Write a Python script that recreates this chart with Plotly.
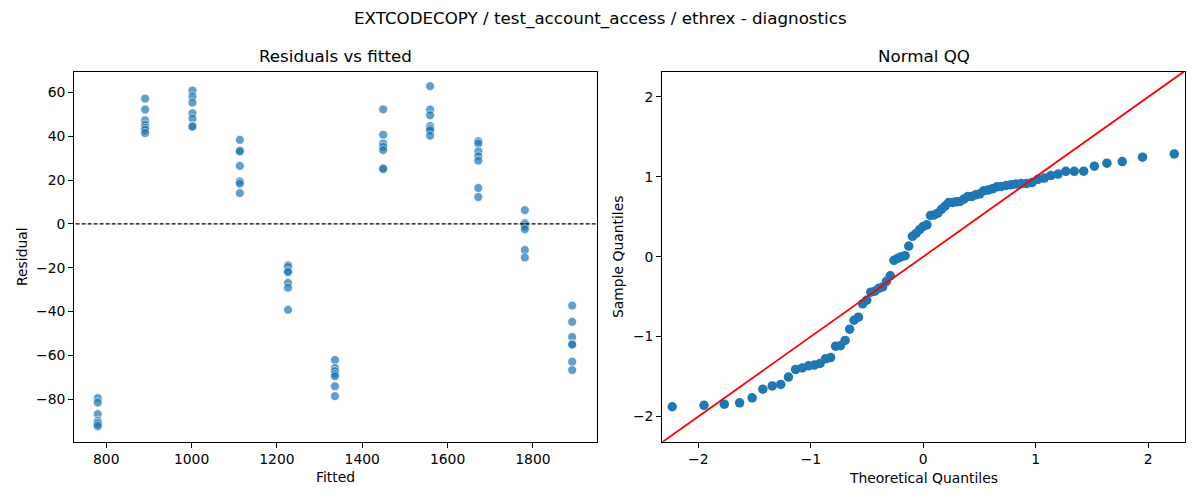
from statistics import NormalDist

import plotly.graph_objects as go

# fitted value of each group (7 runs per group) and the residuals
fitted_levels = [780, 891, 1002, 1113, 1226, 1336, 1449, 1559, 1672, 1781, 1892]
resid_780 = [-79.5, -81.5, -86.8, -89.9, -90.7, -91.4, -92.3]
resid_891 = [57.2, 52.2, 47.3, 45.3, 43.9, 42.9, 41.5]
resid_1002 = [60.9, 58.2, 55.4, 50.5, 48.1, 44.7, 44.4]
resid_1113 = [38.4, 33.5, 33.1, 26.5, 19.4, 18.4, 14.1]
resid_1226 = [-18.8, -19.6, -21.4, -22.0, -26.9, -29.1, -39.2]
resid_1336 = [-62.1, -65.7, -67.2, -68.5, -69.5, -74.1, -78.6]
resid_1449 = [52.3, 40.7, 36.7, 35.2, 33.7, 25.4, 25.1]
resid_1559 = [62.9, 52.2, 49.6, 44.7, 43.5, 42.7, 40.3]
resid_1672 = [37.8, 36.7, 33.1, 30.9, 28.9, 16.4, 12.3]
resid_1781 = [6.3, 0.4, -0.2, -1.2, -2.4, -11.9, -15.3]
resid_1892 = [-37.3, -44.7, -51.6, -54.8, -55.1, -62.9, -66.7]

groups = [resid_780, resid_891, resid_1002, resid_1113, resid_1226, resid_1336,
          resid_1449, resid_1559, resid_1672, resid_1781, resid_1892]

fitted = []
resid = []
for lvl, g in zip(fitted_levels, groups):
    fitted += [lvl] * len(g)
    resid += g

# normal QQ: standardized sorted residuals vs normal quantiles at i/(n+1)
n = len(resid)
mean = sum(resid) / n
std = (sum((r - mean) ** 2 for r in resid) / n) ** 0.5
sample_q = sorted((r - mean) / std for r in resid)
theo_q = [NormalDist().inv_cdf(i / (n + 1)) for i in range(1, n + 1)]

FONT = "DejaVu Sans"
BLUE = "#1f77b4"

fig = go.Figure()

fig.add_trace(go.Scatter(
    x=fitted, y=resid, mode="markers", xaxis="x", yaxis="y",
    marker=dict(size=9, color=BLUE, opacity=0.7, line=dict(color="white", width=0.8)),
    showlegend=False,
))
fig.add_trace(go.Scatter(
    x=[700, 2000], y=[0, 0], mode="lines", xaxis="x", yaxis="y",
    line=dict(color="black", width=1.2, dash="4px,2px"), showlegend=False,
))

fig.add_trace(go.Scatter(
    x=theo_q, y=sample_q, mode="markers", xaxis="x2", yaxis="y2",
    marker=dict(size=9.5, color=BLUE), showlegend=False,
))
fig.add_trace(go.Scatter(
    x=[-3, 3], y=[-3, 3], mode="lines", xaxis="x2", yaxis="y2",
    line=dict(color="red", width=1.8), showlegend=False,
))

axis_style = dict(
    showline=True, mirror=True, linecolor="black", linewidth=1.1,
    ticks="outside", ticklen=5, tickwidth=1, tickcolor="black",
    showgrid=False, zeroline=False,
    tickfont=dict(family=FONT, size=13.9, color="black"),
)

fig.update_layout(
    width=1200, height=500,
    margin=dict(l=0, r=0, t=0, b=0),
    paper_bgcolor="white", plot_bgcolor="white",
    font=dict(family=FONT, color="black"),
    xaxis=dict(domain=[0.0619, 0.4978], range=[725, 1951],
               tickvals=[800, 1000, 1200, 1400, 1600, 1800], anchor="y", **axis_style),
    yaxis=dict(domain=[0.1166, 0.8566], range=[-99.4, 69.5],
               tickvals=[-80, -60, -40, -20, 0, 20, 40, 60], anchor="x", **axis_style),
    xaxis2=dict(domain=[0.5519, 0.9878], range=[-2.32, 2.33],
                tickvals=[-2, -1, 0, 1, 2], anchor="y2", **axis_style),
    yaxis2=dict(domain=[0.1166, 0.8566], range=[-2.315, 2.315],
                tickvals=[-2, -1, 0, 1, 2], anchor="x2", **axis_style),
)

annotations = [
    dict(text="EXTCODECOPY / test_account_access / ethrex - diagnostics",
         x=0.5, y=1 - 18 / 500, font=dict(size=16.7)),
    dict(text="Residuals vs fitted", x=(0.0619 + 0.4978) / 2, y=1 - 56 / 500, font=dict(size=16.7)),
    dict(text="Normal QQ", x=(0.5519 + 0.9878) / 2, y=1 - 56 / 500, font=dict(size=16.7)),
    dict(text="Fitted", x=(0.0619 + 0.4978) / 2, y=1 - 477 / 500, font=dict(size=13.9)),
    dict(text="Theoretical Quantiles", x=(0.5519 + 0.9878) / 2, y=1 - 478 / 500, font=dict(size=13.9)),
    dict(text="Residual", x=22 / 1200, y=1 - 257 / 500, textangle=-90, font=dict(size=13.9)),
    dict(text="Sample Quantiles", x=618 / 1200, y=1 - 257 / 500, textangle=-90, font=dict(size=13.9)),
]
for a in annotations:
    a.update(xref="paper", yref="paper", showarrow=False, xanchor="center", yanchor="middle")
    a["font"].update(family=FONT, color="black")
fig.update_layout(annotations=annotations)

# drop the default page margin so the figure sits at the window's corner
fig.write_html("out.html", config={"displayModeBar": False},
               post_script="document.body.style.margin = '0';")
